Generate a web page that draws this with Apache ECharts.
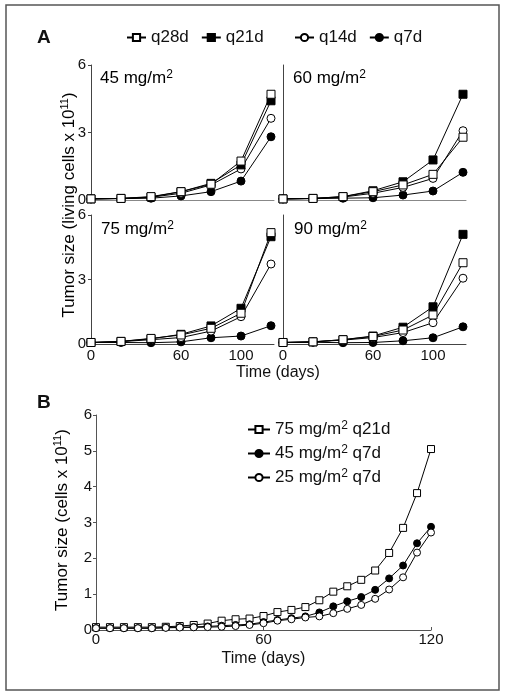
<!DOCTYPE html>
<html><head><meta charset="utf-8">
<script src="https://cdn.jsdelivr.net/npm/echarts@6/dist/echarts.min.js"></script>
<style>html,body{margin:0;padding:0;background:#fff}#c{width:506px;height:697px}</style>
</head><body><div id="c"></div>
<script>
// ---- Data ----
const daysA = [0, 20, 40, 60, 80, 100, 120];
const scheduleNames = ['q28d', 'q21d', 'q14d', 'q7d'];
const panelLabels = ['45', '60', '75', '90'];
// Panel A: dose 45 mg/m2
const p45_q28 = [0.05, 0.07, 0.15, 0.37, 0.70, 1.73, 4.70];
const p45_q21 = [0.05, 0.07, 0.13, 0.37, 0.74, 1.56, 4.41];
const p45_q14 = [0.05, 0.07, 0.12, 0.30, 0.67, 1.38, 3.63];
const p45_q7  = [0.05, 0.06, 0.08, 0.18, 0.37, 0.84, 2.81];
// 60 mg/m2
const p60_q28 = [0.05, 0.07, 0.15, 0.37, 0.67, 1.14, 2.79];
const p60_q21 = [0.05, 0.07, 0.15, 0.41, 0.81, 1.78, 4.70];
const p60_q14 = [0.05, 0.07, 0.13, 0.30, 0.56, 0.96, 3.08];
const p60_q7  = [0.05, 0.06, 0.08, 0.10, 0.22, 0.40, 1.23];
// 75 mg/m2
const p75_q28 = [0.07, 0.12, 0.26, 0.42, 0.73, 1.43, 5.18];
const p75_q21 = [0.07, 0.12, 0.24, 0.45, 0.84, 1.66, 4.99];
const p75_q14 = [0.07, 0.11, 0.20, 0.30, 0.60, 1.27, 3.72];
const p75_q7  = [0.07, 0.07, 0.06, 0.10, 0.29, 0.37, 0.85];
// 90 mg/m2
const p90_q28 = [0.07, 0.10, 0.20, 0.35, 0.65, 1.35, 3.78];
const p90_q21 = [0.07, 0.10, 0.20, 0.37, 0.78, 1.73, 5.10];
const p90_q14 = [0.07, 0.10, 0.18, 0.30, 0.53, 0.99, 3.06];
const p90_q7  = [0.07, 0.08, 0.06, 0.07, 0.15, 0.29, 0.80];
const xTicksA = [0, 60, 100];

// Panel B
const daysB = [0,5,10,15,20,25,30,35,40,45,50,55,60,65,70,75,80,85,90,95,100,105,110,115,120];
const b75_q21 = [0.08,0.08,0.08,0.08,0.08,0.09,0.11,0.14,0.18,0.26,0.30,0.32,0.39,0.50,0.56,0.64,0.83,1.07,1.22,1.40,1.66,2.15,2.85,3.82,5.05];
const b45_q7  = [0.05,0.05,0.05,0.05,0.05,0.07,0.08,0.085,0.10,0.12,0.14,0.16,0.22,0.28,0.33,0.38,0.49,0.66,0.80,0.92,1.12,1.44,1.80,2.42,2.88];
const b25_q7  = [0.05,0.05,0.05,0.05,0.05,0.06,0.07,0.075,0.08,0.09,0.11,0.14,0.19,0.26,0.30,0.35,0.38,0.47,0.59,0.70,0.87,1.13,1.47,2.16,2.72];
const namesB = ['75 mg/m2 q21d', '45 mg/m2 q7d', '25 mg/m2 q7d'];

// ---- Build ----
const FONT = 'Liberation Sans, Arial, Helvetica, sans-serif';
const panelData = [
  [p45_q28, p45_q21, p45_q14, p45_q7],
  [p60_q28, p60_q21, p60_q14, p60_q7],
  [p75_q28, p75_q21, p75_q14, p75_q7],
  [p90_q28, p90_q21, p90_q14, p90_q7]
];
const symStyle = [
  {symbol: 'rect', fill: '#fff'},
  {symbol: 'rect', fill: '#000'},
  {symbol: 'circle', fill: '#fff'},
  {symbol: 'circle', fill: '#000'}
];
const gridsA = [
  {left: 91, top: 65, width: 183, height: 135},
  {left: 283, top: 65, width: 183, height: 135},
  {left: 91, top: 215, width: 183, height: 129},
  {left: 283, top: 215, width: 183, height: 129}
];
const grids = gridsA.concat([{left: 96, top: 415, width: 335, height: 215}]);
const xAxes = [], yAxes = [], series = [];
for (let i = 0; i < 4; i++) {
  const bottomRow = i >= 2;
  xAxes.push({
    type: 'value', gridIndex: i, min: 0, max: 122,
    axisLine: {show: true, lineStyle: {color: bottomRow ? '#444' : '#888', width: 1}},
    axisTick: {show: false},
    splitLine: {show: false},
    axisLabel: {show: bottomRow, customValues: xTicksA, color: '#111', fontSize: 15, fontFamily: FONT, margin: 4}
  });
  const leftCol = (i % 2) === 0;
  yAxes.push({
    type: 'value', gridIndex: i, min: 0, max: 6, interval: 3,
    axisLine: {show: true, lineStyle: {color: '#444', width: 1}},
    axisTick: {show: leftCol, length: 3, lineStyle: {color: '#444'}},
    splitLine: {show: false},
    axisLabel: {show: leftCol, color: '#111', fontSize: 15, fontFamily: FONT, margin: 5}
  });
  for (let s = 0; s < 4; s++) {
    series.push({
      name: scheduleNames[s], type: 'line', xAxisIndex: i, yAxisIndex: i,
      data: daysA.map((d, k) => [d, panelData[i][s][k]]),
      symbol: symStyle[s].symbol, symbolSize: 8,
      lineStyle: {color: '#000', width: 1},
      itemStyle: {color: symStyle[s].fill, borderColor: '#000', borderWidth: 1},
      z: 2 + (3 - s)
    });
  }
}
xAxes.push({
  type: 'value', gridIndex: 4, min: 0, max: 120, interval: 60,
  axisLine: {show: true, lineStyle: {color: '#555', width: 1}},
  axisTick: {show: true, inside: true, length: 3, lineStyle: {color: '#555'}},
  splitLine: {show: false},
  axisLabel: {color: '#111', fontSize: 15, fontFamily: FONT, margin: 2},
  name: 'Time (days)', nameLocation: 'middle', nameGap: 21,
  nameTextStyle: {color: '#111', fontSize: 16, fontFamily: FONT}
});
yAxes.push({
  type: 'value', gridIndex: 4, min: 0, max: 6, interval: 1,
  axisLine: {show: true, lineStyle: {color: '#555', width: 1}},
  axisTick: {show: true, length: 3, lineStyle: {color: '#555'}},
  splitLine: {show: false},
  axisLabel: {color: '#111', fontSize: 15, fontFamily: FONT, margin: 4}
});
const dataB = [b75_q21, b45_q7, b25_q7];
const styleB = [symStyle[0], symStyle[3], symStyle[2]];
for (let s = 0; s < 3; s++) {
  series.push({
    name: namesB[s], type: 'line', xAxisIndex: 4, yAxisIndex: 4,
    data: daysB.map((d, k) => [d, dataB[s][k]]),
    symbol: styleB[s].symbol, symbolSize: 7,
    lineStyle: {color: '#000', width: 1},
    itemStyle: {color: styleB[s].fill, borderColor: '#000', borderWidth: 1}
  });
}

const richSup = {
  a: {fontSize: 17, fontFamily: FONT, color: '#111', lineHeight: 19},
  s: {fontSize: 12, fontFamily: FONT, color: '#111', verticalAlign: 'top', lineHeight: 12}
};
const richTitle = {
  a: {fontSize: 17, fontFamily: FONT, color: '#111', lineHeight: 19},
  s: {fontSize: 11, fontFamily: FONT, color: '#111', verticalAlign: 'top', lineHeight: 11}
};
const panelTextPos = [[100, 69], [293, 69], [101, 220], [294, 220]];
const graphics = [
  {type: 'rect', shape: {x: 6, y: 5, width: 493, height: 685}, style: {fill: 'none', stroke: '#555', lineWidth: 1.5}, z: 0},
  {type: 'text', x: 37, y: 28, style: {text: 'A', fontSize: 19, fontWeight: 'bold', fontFamily: FONT, fill: '#111'}},
  {type: 'text', x: 37, y: 393, style: {text: 'B', fontSize: 19, fontWeight: 'bold', fontFamily: FONT, fill: '#111'}},
  {type: 'text', x: 278, y: 373, style: {text: 'Time (days)', fontSize: 16, fontFamily: FONT, fill: '#111', align: 'center', verticalAlign: 'middle'}},
  {type: 'text', x: 69, y: 205, rotation: Math.PI / 2,
   style: {text: '{a|Tumor size (living cells x 10}{s|11}{a|)}', align: 'center', verticalAlign: 'middle', rich: richTitle}},
  {type: 'text', x: 62, y: 520, rotation: Math.PI / 2,
   style: {text: '{a|Tumor size (cells x 10}{s|11}{a|)}', align: 'center', verticalAlign: 'middle', rich: richTitle}}
];
for (let i = 0; i < 4; i++) {
  graphics.push({type: 'text', x: panelTextPos[i][0], y: panelTextPos[i][1],
    style: {text: '{a|' + panelLabels[i] + ' mg/m}{s|2}', rich: richSup}});
}

const legendText = {color: '#111', fontSize: 17, fontFamily: FONT};
const option = {
  animation: false,
  backgroundColor: '#fff',
  grid: grids,
  xAxis: xAxes,
  yAxis: yAxes,
  series: series,
  legend: [
    {data: ['q28d', 'q21d'], left: 126, top: 29, itemWidth: 19, itemHeight: 9, itemGap: 12, textStyle: legendText, padding: 0},
    {data: ['q14d', 'q7d'], left: 294, top: 29, itemWidth: 19, itemHeight: 9, itemGap: 12, textStyle: legendText, padding: 0},
    {data: namesB, orient: 'vertical', left: 247, top: 420, itemWidth: 22, itemHeight: 9, itemGap: 6, padding: 0,
     formatter: function (n) { const p = n.split('m2'); return '{a|' + p[0] + 'm}{s|2}{a|' + p[1] + '}'; },
     textStyle: {color: '#111', fontFamily: FONT, rich: {
       a: {fontSize: 17, fontFamily: FONT, color: '#111', lineHeight: 19},
       s: {fontSize: 12, fontFamily: FONT, color: '#111', verticalAlign: 'top', lineHeight: 12}}}}
  ],
  graphic: graphics
};
const chart = echarts.init(document.getElementById('c'), null, {renderer: 'canvas'});
chart.setOption(option);
</script>
</body></html>
